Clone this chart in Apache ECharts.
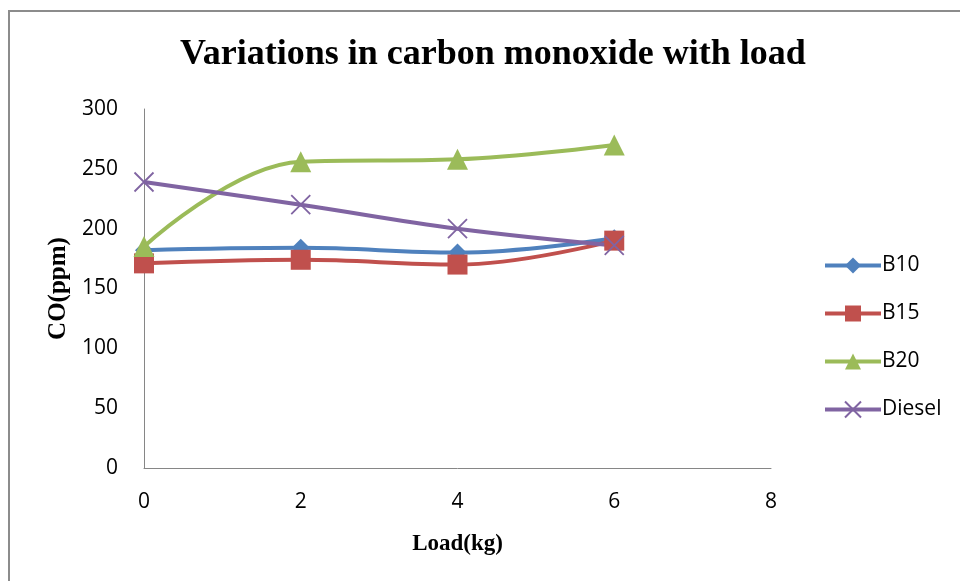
<!DOCTYPE html>
<html>
<head>
<meta charset="utf-8">
<script src="https://cdn.jsdelivr.net/npm/echarts@6/dist/echarts.min.js"></script>
<style>
  html, body { margin: 0; padding: 0; background: #fff; }
  #chart { width: 960px; height: 581px; }
</style>
</head>
<body>
<div id="chart"></div>
<script>
// Load (kg) on the x axis
const loads = [0, 2, 4, 6];
// CO emissions (ppm) per fuel blend
const b10 = [182, 184, 180, 192];
const b15 = [171, 174, 170, 190];
const b20 = [185, 256, 258, 270];
const diesel = [239, 220, 200, 186];
const seriesNames = ['B10', 'B15', 'B20', 'Diesel'];

const colors = ['#4F81BD', '#C0504D', '#9BBB59', '#8064A2'];
const crossPath = 'path://M0,0L10,10M10,0L0,10';
const tickFont = '"Open Sans", "Liberation Sans", sans-serif';
const serifFont = '"Liberation Serif", "DejaVu Serif", serif';

function pairs(vals) {
  return loads.map((x, i) => [x, vals[i]]);
}

function lineSeries(name, vals, color, symbol, size, extra) {
  return Object.assign({
    name: name,
    type: 'line',
    data: pairs(vals),
    smooth: 0.4,
    symbol: symbol,
    symbolSize: size,
    showAllSymbol: true,
    lineStyle: { color: color, width: 4 },
    itemStyle: { color: color },
    emphasis: { disabled: true },
    z: 2
  }, extra || {});
}

const chart = echarts.init(document.getElementById('chart'), null, { renderer: 'canvas' });

chart.setOption({
  animation: false,
  backgroundColor: '#ffffff',
  title: {
    text: 'Variations in carbon monoxide with load',
    left: 488,
    textAlign: 'center',
    top: 32,
    textStyle: {
      fontFamily: serifFont,
      fontWeight: 'bold',
      fontSize: 36,
      color: '#000'
    }
  },
  graphic: [{
    type: 'rect',
    shape: { x: 9, y: 11, width: 970, height: 600 },
    style: { fill: 'none', stroke: '#8c8c8c', lineWidth: 2 },
    silent: true
  }],
  grid: { left: 144, right: 189, top: 109, bottom: 113 },
  legend: {
    orient: 'vertical',
    left: 818,
    top: 250,
    itemWidth: 56,
    itemHeight: 20,
    itemGap: 27,
    data: seriesNames,
    lineStyle: { width: 4 },
    textStyle: {
      fontFamily: tickFont,
      fontSize: 21,
      color: '#000',
      padding: [0, 0, 0, -4]
    }
  },
  xAxis: {
    type: 'value',
    min: 0,
    max: 8,
    interval: 2,
    name: 'Load(kg)',
    nameLocation: 'middle',
    nameGap: 65,
    nameTextStyle: {
      fontFamily: serifFont,
      fontWeight: 'bold',
      fontSize: 23,
      color: '#000'
    },
    axisLine: { lineStyle: { color: '#868686', width: 1 } },
    axisTick: { show: false },
    splitLine: { show: false },
    axisLabel: {
      margin: 24,
      fontFamily: tickFont,
      fontSize: 21,
      color: '#000'
    }
  },
  yAxis: {
    type: 'value',
    min: 0,
    max: 300,
    interval: 50,
    name: 'CO(ppm)',
    nameLocation: 'middle',
    nameGap: 70,
    nameRotate: 90,
    nameTextStyle: {
      fontFamily: serifFont,
      fontWeight: 'bold',
      fontSize: 25,
      color: '#000'
    },
    axisLine: { show: true, lineStyle: { color: '#868686', width: 1 } },
    axisTick: { show: false },
    splitLine: { show: false },
    axisLabel: {
      margin: 26,
      fontFamily: tickFont,
      fontSize: 21,
      color: '#000'
    }
  },
  series: [
    lineSeries('B10', b10, colors[0], 'diamond', 18),
    lineSeries('B15', b15, colors[1], 'rect', 20),
    lineSeries('B20', b20, colors[2], 'triangle', 21),
    lineSeries('Diesel', diesel, colors[3], crossPath, 19, {
      itemStyle: { color: 'none', borderColor: colors[3], borderWidth: 1.8 }
    })
  ]
});
</script>
</body>
</html>
